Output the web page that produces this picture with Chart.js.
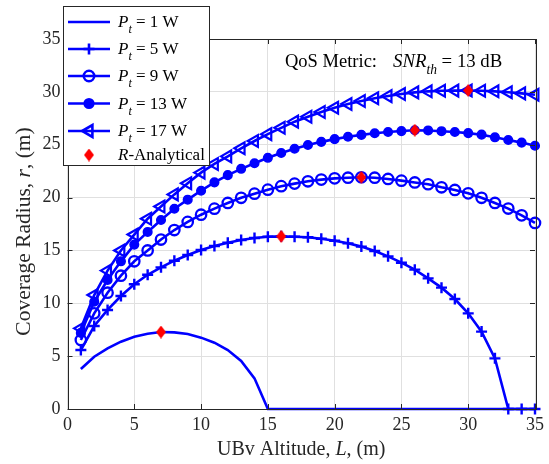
<!DOCTYPE html>
<html>
<head>
<meta charset="utf-8">
<script src="https://cdn.jsdelivr.net/npm/chart.js@4.4.0/dist/chart.umd.min.js"></script>
<style>
  html, body { margin: 0; padding: 0; background: #ffffff; }
  #wrap { width: 549px; height: 464px; position: relative; }
</style>
</head>
<body>
<div id="wrap"><canvas id="chart" width="549" height="464"></canvas></div>
<script>
// UBv altitude L (m)
const altitude = [1,2,3,4,5,6,7,8,9,10,11,12,13,14,15,16,17,18,19,20,21,22,23,24,25,26,27,28,29,30,31,32,33,34,35];

// Coverage radius r (m) for each transmit power
const radius1W  = [3.78,4.95,5.74,6.37,6.84,7.12,7.28,7.25,7.10,6.75,6.27,5.58,4.54,2.90,0,0,0,0,0,0,0,0,0,0,0,0,0,0,0,0,0,0,0,0,0];
const radius5W  = [5.58,7.85,9.37,10.69,11.80,12.70,13.40,14.03,14.57,15.04,15.42,15.73,15.99,16.18,16.30,16.33,16.30,16.24,16.11,15.92,15.67,15.36,14.95,14.44,13.84,13.18,12.36,11.48,10.40,9.05,7.32,4.79,0,0,0];
const radius9W  = [6.53,9.05,11.00,12.61,13.97,15.00,16.03,16.93,17.70,18.38,18.95,19.49,19.98,20.37,20.75,21.08,21.32,21.54,21.70,21.82,21.88,21.92,21.88,21.76,21.60,21.43,21.26,20.97,20.72,20.40,19.98,19.49,18.96,18.32,17.60];
const radius13W = [7.20,10.15,12.20,13.97,15.55,16.75,17.88,18.94,19.80,20.65,21.44,22.12,22.72,23.25,23.76,24.22,24.62,24.97,25.27,25.53,25.75,25.93,26.08,26.20,26.29,26.37,26.35,26.28,26.20,26.10,25.95,25.70,25.45,25.20,24.90];
const radius17W = [7.63,10.78,13.09,15.00,16.50,18.00,19.15,20.30,21.35,22.36,23.18,23.90,24.66,25.35,26.00,26.60,27.18,27.65,28.10,28.50,28.85,29.14,29.39,29.60,29.80,29.95,30.05,30.10,30.12,30.13,30.10,30.05,29.97,29.86,29.72];

// Analytical optimum (altitude, radius) for each power level
const analyticalL = [7, 16, 22, 26, 30];
const analyticalR = [7.28, 16.33, 21.92, 26.37, 30.13];

const seriesLabels = ['P_t = 1 W', 'P_t = 5 W', 'P_t = 9 W', 'P_t = 13 W', 'P_t = 17 W', 'R-Analytical'];
const xTicks = [0, 5, 10, 15, 20, 25, 30, 35];
const yTicks = [0, 5, 10, 15, 20, 25, 30, 35];

const BLUE = '#0000ff';
const RED = '#ff0000';
const INK = '#262626';
const SERIF = '"Liberation Serif", "Times New Roman", serif';

function pts(xs, ys) { return xs.map((x, i) => ({ x: x, y: ys[i] })); }

// Tall red diamond marker used as a point style
function diamondMarker(w, h) {
  const c = document.createElement('canvas');
  c.width = w; c.height = h;
  const g = c.getContext('2d');
  g.fillStyle = RED;
  g.beginPath();
  g.moveTo(w / 2, 0); g.lineTo(w, h / 2); g.lineTo(w / 2, h); g.lineTo(0, h / 2);
  g.closePath();
  g.fill();
  return c;
}
const diamond = diamondMarker(10, 13);

const seriesStyles = [
  { pointStyle: false, radius: 0, bw: 0 },
  { pointStyle: 'cross', radius: 5.5, fill: 'rgba(0,0,0,0)', bw: 2.4 },
  { pointStyle: 'circle', radius: 5.2, fill: 'rgba(0,0,0,0)', bw: 2.3 },
  { pointStyle: 'circle', radius: 4.3, fill: BLUE, bw: 1.5 },
  { pointStyle: 'triangle', radius: 6.8, fill: 'rgba(0,0,0,0)', bw: 2.2, rotation: -90 }
];
const seriesData = [radius1W, radius5W, radius9W, radius13W, radius17W];

const datasets = seriesData.map((ys, i) => ({
  label: seriesLabels[i],
  data: pts(altitude, ys),
  borderColor: BLUE,
  backgroundColor: seriesStyles[i].fill || BLUE,
  borderWidth: 2.6,
  pointStyle: seriesStyles[i].pointStyle,
  pointRadius: seriesStyles[i].radius,
  pointRotation: seriesStyles[i].rotation || 0,
  pointBorderWidth: seriesStyles[i].bw,
  pointBorderColor: BLUE,
  pointBackgroundColor: seriesStyles[i].fill || BLUE,
  tension: 0,
  clip: false,
  order: 5 - i
}));

datasets.push({
  label: seriesLabels[5],
  data: pts(analyticalL, analyticalR),
  showLine: false,
  pointStyle: diamond,
  pointRadius: 6,
  pointBorderWidth: 0,
  pointBackgroundColor: RED,
  pointBorderColor: RED,
  borderColor: RED,
  backgroundColor: RED,
  clip: false,
  order: 0
});

// Draws a run of text pieces: {t, it (italic), sub (subscript)}
function richWidth(ctx, parts, size) {
  let w = 0;
  parts.forEach(p => {
    const s = p.sub ? size * 0.72 : size;
    ctx.font = (p.it ? 'italic ' : '') + s + 'px ' + SERIF;
    w += ctx.measureText(p.t).width;
  });
  return w;
}
function drawRich(ctx, parts, x, y, size, align) {
  let cx = x;
  const w = richWidth(ctx, parts, size);
  if (align === 'center') cx = x - w / 2;
  else if (align === 'right') cx = x - w;
  ctx.textAlign = 'left';
  ctx.textBaseline = 'alphabetic';
  parts.forEach(p => {
    const s = p.sub ? size * 0.72 : size;
    ctx.font = (p.it ? 'italic ' : '') + s + 'px ' + SERIF;
    ctx.fillText(p.t, cx, y + (p.sub ? size * 0.36 : 0));
    cx += ctx.measureText(p.t).width;
  });
}
function labelParts(label) {
  if (label.startsWith('P_t')) return [{ t: 'P', it: true }, { t: 't', it: true, sub: true }, { t: label.slice(3) }];
  return [{ t: 'R', it: true }, { t: '-Analytical' }];
}

const decorations = {
  id: 'decorations',
  afterDraw(chart) {
    const ctx = chart.ctx;
    const a = chart.chartArea;
    const xs = chart.scales.x, ys = chart.scales.y;
    ctx.save();

    // axes box with inward ticks
    ctx.strokeStyle = INK;
    ctx.lineWidth = 1;
    ctx.strokeRect(Math.round(a.left) + 0.5, Math.round(a.top) + 0.5, Math.round(a.right - a.left), Math.round(a.bottom - a.top));
    const tl = 5;
    ctx.beginPath();
    xTicks.forEach(v => {
      const px = Math.round(xs.getPixelForValue(v)) + 0.5;
      ctx.moveTo(px, a.bottom); ctx.lineTo(px, a.bottom - tl);
      ctx.moveTo(px, a.top); ctx.lineTo(px, a.top + tl);
    });
    yTicks.forEach(v => {
      const py = Math.round(ys.getPixelForValue(v)) + 0.5;
      ctx.moveTo(a.left, py); ctx.lineTo(a.left + tl, py);
      ctx.moveTo(a.right, py); ctx.lineTo(a.right - tl, py);
    });
    ctx.stroke();

    // axis titles
    ctx.fillStyle = INK;
    drawRich(ctx, [{ t: 'UBv Altitude, ' }, { t: 'L', it: true }, { t: ', (m)' }], (a.left + a.right) / 2, 455, 20, 'center');
    ctx.save();
    ctx.translate(30, 231.5);
    ctx.rotate(-Math.PI / 2);
    drawRich(ctx, [{ t: 'Coverage Radius, ' }, { t: 'r', it: true }, { t: ', (m)' }], 0, 0, 21.5, 'center');
    ctx.restore();

    // annotation
    ctx.fillStyle = '#000000';
    drawRich(ctx, [{ t: 'QoS Metric:' }], 285, 67, 18.5, 'left');
    drawRich(ctx, [{ t: 'SNR', it: true }, { t: 'th', it: true, sub: true }, { t: ' = 13 dB' }], 393, 67, 18.8, 'left');

    // legend
    const bx = 63.5, by = 6.5, bw = 146, bh = 159;
    ctx.fillStyle = '#ffffff';
    ctx.fillRect(bx, by, bw, bh);
    ctx.strokeStyle = INK;
    ctx.lineWidth = 1;
    ctx.strokeRect(bx, by, bw, bh);
    const rowsY = [22, 49, 76, 103.5, 131, 155];
    chart.data.datasets.forEach((ds, i) => {
      const ry = rowsY[i];
      if (ds.showLine !== false) {
        ctx.strokeStyle = ds.borderColor;
        ctx.lineWidth = ds.borderWidth;
        ctx.beginPath();
        ctx.moveTo(68, ry); ctx.lineTo(110, ry);
        ctx.stroke();
      }
      if (ds.pointStyle) {
        ctx.strokeStyle = ds.pointBorderColor;
        ctx.fillStyle = ds.pointBackgroundColor;
        Chart.helpers.drawPoint(ctx, {
          pointStyle: ds.pointStyle,
          radius: ds.pointRadius,
          rotation: ds.pointRotation || 0,
          borderWidth: ds.pointBorderWidth
        }, 89, ry);
      }
      ctx.fillStyle = '#000000';
      drawRich(ctx, labelParts(ds.label), 118, ry + 5, 17, 'left');
    });
    ctx.restore();
  }
};

new Chart(document.getElementById('chart'), {
  type: 'line',
  data: { datasets: datasets },
  plugins: [decorations],
  options: {
    responsive: false,
    animation: false,
    devicePixelRatio: 1,
    layout: { padding: { left: 0, right: 12, top: 39, bottom: 0 } },
    plugins: { legend: { display: false }, tooltip: { enabled: false } },
    scales: {
      x: {
        type: 'linear', min: 0, max: 35,
        afterFit: s => { s.height = 55; },
        afterBuildTicks: s => { s.ticks = xTicks.map(v => ({ value: v })); },
        grid: { color: '#e0e0e0', lineWidth: 1, drawTicks: false },
        border: { display: false },
        ticks: { color: INK, padding: 5, maxRotation: 0, font: { family: SERIF, size: 18 } }
      },
      y: {
        type: 'linear', min: 0, max: 35,
        afterFit: s => { s.width = 67.5; },
        afterBuildTicks: s => { s.ticks = yTicks.map(v => ({ value: v })); },
        grid: { color: '#e0e0e0', lineWidth: 1, drawTicks: false },
        border: { display: false },
        ticks: { color: INK, padding: 7, font: { family: SERIF, size: 18 } }
      }
    }
  }
});
</script>
</body>
</html>
